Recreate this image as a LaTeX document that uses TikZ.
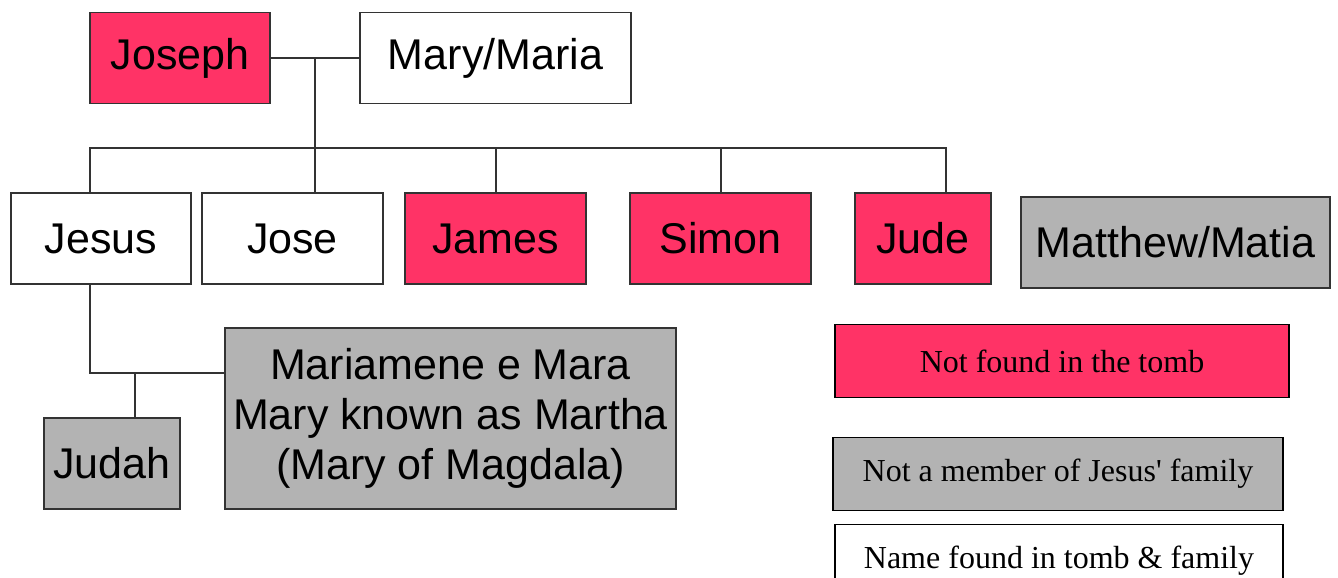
\documentclass[tikz,border=0pt]{standalone}
\usepackage{fontspec}
\setmainfont{Liberation Serif}
\setsansfont{Liberation Sans}
\usetikzlibrary{positioning, calc}

\definecolor{tombred}{HTML}{FF3366}
\definecolor{tombgray}{HTML}{B3B3B3}

\begin{document}
\begin{tikzpicture}[
  x=1pt, y=1pt,
  every node/.style={align=center, inner sep=0pt, outer sep=0pt},
  person/.style={draw=black!80, line width=1.8pt, font=\sffamily\fontsize{43}{50}\selectfont,
    minimum width=181pt, minimum height=91pt},
  legendbox/.style={draw=black, line width=1.4pt, font=\fontsize{32}{36}\selectfont,
    minimum height=73pt},
  link/.style={draw=black!80, line width=1.6pt}
]
\useasboundingbox (0,0) rectangle (1338,578);
\clip (0,0) rectangle (1338,578);

% Parents
\node[person, fill=tombred, minimum width=180pt] (joseph) at (180,520) {Joseph};
\node[person, fill=white, minimum width=271pt, right=90pt of joseph] (mary) {Mary/Maria};
% Children
\node[person, fill=white, minimum width=180pt] (jesus) at (101,339.5) {Jesus};
\node[person, fill=white, right=11pt of jesus] (jose) {Jose};
\node[person, fill=tombred, right=22pt of jose] (james) {James};
\node[person, fill=tombred, right=44pt of james] (simon) {Simon};
\node[person, fill=tombred, minimum width=136pt, right=44pt of simon] (jude) {Jude};
\node[person, fill=tombgray, minimum width=309pt, right=30pt of jude, yshift=-4pt] (matthew) {Matthew/Matia};
% Jesus' family
\node[person, fill=tombgray, minimum width=451pt, minimum height=181pt] (mariamene) at (450.5,159.5)
  {Mariamene e Mara\\Mary known as Martha\\(Mary of Magdala)};
\node[person, fill=tombgray, minimum width=136pt, left=45pt of mariamene.south west, anchor=south east] (judah) {Judah};

% Legend
\node[legendbox, fill=tombred, minimum width=454pt] (notfound) at (1062,217) {Not found in the tomb};
\node[legendbox, fill=tombgray, minimum width=450pt] (notmember) at (1058,104) {Not a member of Jesus\textquotesingle{} family};
\node[legendbox, fill=white, minimum width=448pt] (found) at (1059,17) {Name found in tomb \& family};

% Edges
% Marriage and children
\draw[link] (joseph) -- (mary);
\coordinate (wed) at ($(joseph.east)!0.5!(mary.west)$);
\draw[link] (wed) -- (wed |- jose.north);
\draw[link] ([xshift=-11pt]jesus.north) -- ++(0,45) -| ([xshift=23pt]jude.north);
\draw[link] ([xshift=0.5pt]james.north) -- ++(0,45);
\draw[link] ([xshift=0.5pt]simon.north) -- ++(0,45);

% Jesus, spouse and son
\draw[link] ([xshift=-11pt]jesus.south) |- ([yshift=45.5pt]mariamene.west);
\draw[link] ([xshift=23pt]judah.north) -- ++(0,45);
\end{tikzpicture}
\end{document}
